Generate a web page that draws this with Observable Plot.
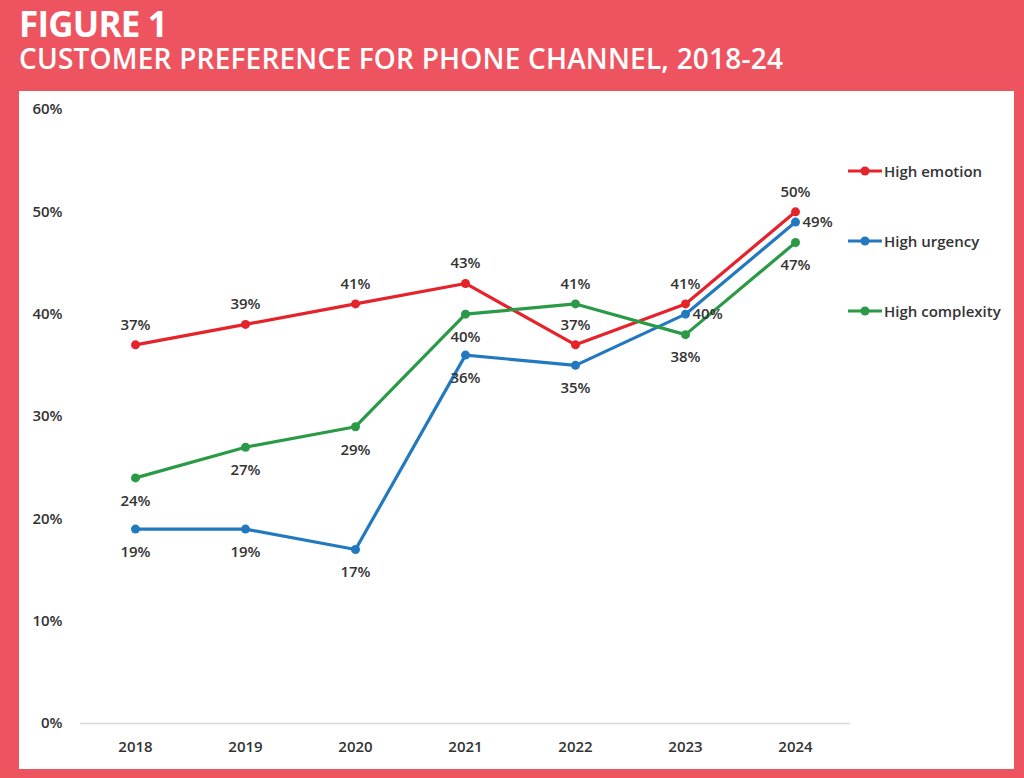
<!DOCTYPE html>
<html>
<head>
<meta charset="utf-8">
<script src="https://cdn.jsdelivr.net/npm/d3@7"></script>
<script src="https://cdn.jsdelivr.net/npm/@observablehq/plot@0.6"></script>
<style>
  html, body { margin: 0; padding: 0; }
  body { width: 1024px; height: 778px; background: #EE5460; position: relative; overflow: hidden; font-family: "Open Sans", sans-serif; }
  #title { position: absolute; left: 19px; top: 6px; color: #fff; font-weight: 700; font-size: 35px; line-height: 36px; letter-spacing: -0.8px; }
  #subtitle { position: absolute; left: 19px; top: 43px; color: #fff; font-weight: 600; font-size: 28px; line-height: 31px; letter-spacing: 0.2px; }
  #panel { position: absolute; left: 19px; top: 91px; width: 995px; height: 678px; background: #fff; }
  #legend { position: absolute; left: 829px; top: 0; font-family: "Open Sans", sans-serif; font-size: 15px; font-weight: 600; color: #333; }
  .item { position: absolute; left: 0; white-space: nowrap; display: flex; align-items: center; }
  .item svg { margin-right: 2px; }
</style>
</head>
<body>
<div id="title">FIGURE 1</div>
<div id="subtitle">CUSTOMER PREFERENCE FOR PHONE CHANNEL, 2018-24</div>
<div id="panel"><div id="legend"></div></div>
<script>
const years = ["2018", "2019", "2020", "2021", "2022", "2023", "2024"];
const seriesNames = ["High emotion", "High urgency", "High complexity"];
const highEmotion = [37, 39, 41, 43, 37, 41, 50];
const highUrgency = [19, 19, 17, 36, 35, 40, 49];
const highComplexity = [24, 27, 29, 40, 41, 38, 47];
const yTicks = [0, 10, 20, 30, 40, 50, 60];
const colors = ["#E5232B", "#2279BF", "#2A9A47"];
// label placement relative to point: a = above, b = below, r = right
const emotionLabelPos = ["a", "a", "a", "a", "a", "a", "a"];
const urgencyLabelPos = ["b", "b", "b", "b", "b", "r", "r"];
const complexityLabelPos = ["b", "b", "b", "b", "a", "b", "b"];

const valuesBySeries = [highEmotion, highUrgency, highComplexity];
const posBySeries = [emotionLabelPos, urgencyLabelPos, complexityLabelPos];
const data = [];
seriesNames.forEach((s, i) => {
  years.forEach((y, j) => {
    data.push({series: s, year: y, value: valuesBySeries[i][j], pos: posBySeries[i][j]});
  });
});

const font = "'Open Sans', sans-serif";
const lbl = {fill: "#333", fontSize: 15, fontWeight: 600};
const chart = Plot.plot({
  width: 995,
  height: 678,
  marginLeft: 61,
  marginRight: 164,
  marginTop: 18,
  marginBottom: 46,
  style: {fontFamily: font, fontSize: "15px", color: "#333", background: "transparent"},
  x: {type: "point", domain: years, padding: 0.5, label: null},
  y: {domain: [0, 60], ticks: yTicks, tickFormat: d => d + "%", label: null},
  color: {domain: seriesNames, range: colors},
  marks: [
    Plot.ruleY([0], {stroke: "#d9d9d9", strokeWidth: 1.3}),
    Plot.axisX({tickSize: 0, tickPadding: 18, ...lbl}),
    Plot.axisY({ticks: yTicks, tickSize: 0, tickPadding: 18, ...lbl, tickFormat: d => d + "%"}),
    Plot.line(data, {x: "year", y: "value", z: "series", stroke: "series", strokeWidth: 3.2}),
    Plot.dot(data, {x: "year", y: "value", fill: "series", r: 4.5}),
    Plot.text(data.filter(d => d.pos === "a"), {x: "year", y: "value", text: d => d.value + "%", dy: -20, ...lbl}),
    Plot.text(data.filter(d => d.pos === "b"), {x: "year", y: "value", text: d => d.value + "%", dy: 23, ...lbl}),
    Plot.text(data.filter(d => d.pos === "r"), {x: "year", y: "value", text: d => d.value + "%", dx: 7, dy: 0, textAnchor: "start", ...lbl})
  ]
});
document.getElementById("panel").prepend(chart);

// legend
const legend = document.getElementById("legend");
const legendTops = [80, 150, 220];
seriesNames.forEach((s, i) => {
  const item = document.createElement("div");
  item.className = "item";
  item.style.top = (legendTops[i] - 10) + "px";
  item.innerHTML = `<svg width="34" height="20"><line x1="0" x2="34" y1="10" y2="10" stroke="${colors[i]}" stroke-width="3"/><circle cx="17" cy="10" r="4.5" fill="${colors[i]}"/></svg><span>${s}</span>`;
  legend.appendChild(item);
});
</script>
</body>
</html>
